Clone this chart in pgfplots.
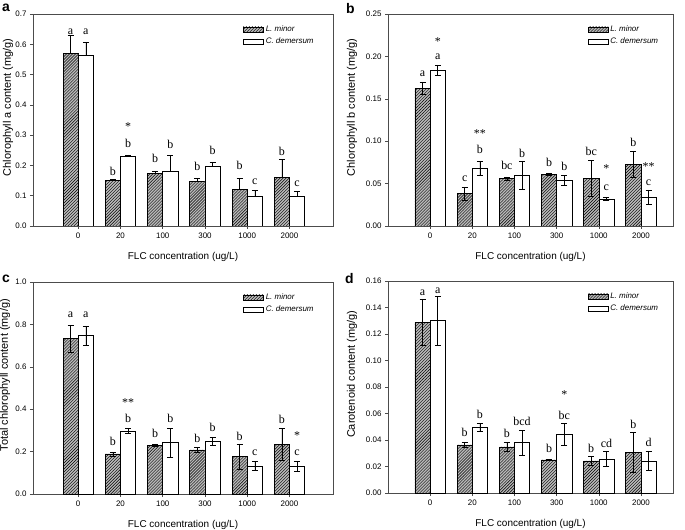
\documentclass[border=0pt]{standalone}
\usepackage{fontspec}
\setmainfont{Liberation Sans}
\newfontfamily\tnr{Liberation Serif}
\usepackage{pgfplots}
\usepackage{pgfplotstable}
\pgfplotsset{compat=1.18}
\usetikzlibrary{patterns}

\pgfplotsset{
  panel/.style={
    scale only axis, height=212bp,
    ymin=0, xtick={0,...,5}, xticklabels={0,20,100,300,1000,2000},
    axis line style={black!70, line width=0.6pt},
    tick style={black!70, line width=0.6pt},
    tick align=outside, tick pos=left, major tick length=3bp,
    ticklabel style={font=\fontsize{8}{9}\selectfont},
    /pgf/number format/assume math mode=true,
    label style={font=\fontsize{10}{12}\selectfont},
    xlabel={FLC concentration (ug/L)},
    x label style={at={(axis description cs:0.5,0)}, yshift=-31bp, anchor=center},
    legend style={at={(0.70,0.955)}, anchor=north west, draw=none, fill=none,
      font=\fontsize{8}{9}\selectfont\itshape, row sep=1bp, inner sep=0pt},
    legend cell align=left,
    legend image code/.code={\draw[##1] (0bp,-2.5bp) rectangle (20bp,2.5bp);},
  },
  ylab/.style 2 args={ylabel={#1},
    y label style={at={(axis description cs:-#2,0.56)}, anchor=center,
      font=\fontsize{11}{12}\selectfont}},
  % bars are placed at category -/+ 0.18 through x expr, so that error bars follow them
  lm/.style={ybar, bar shift=0pt, bar width=0.36, fill=gray!55, draw=black, line width=0.6pt,
    postaction={pattern=north east lines},
    error bars/.cd, y dir=#1, y explicit,
    error bar style={black, line width=0.6pt},
    error mark options={rotate=90, black, mark size=3bp, line width=0.6pt}},
  cd/.style={ybar, bar shift=0pt, bar width=0.36, fill=white, draw=black, line width=0.6pt,
    error bars/.cd, y dir=#1, y explicit,
    error bar style={black, line width=0.6pt},
    error mark options={rotate=90, black, mark size=3bp, line width=0.6pt}},
  labs/.style={forget plot, draw=none, mark=none, nodes near coords, point meta=explicit symbolic,
    nodes near coords style={anchor=center, inner sep=0pt, text height=0.68em, text depth=0pt,
      font=\tnr\fontsize{12}{12}\selectfont}},
}

\pgfplotstableread{
x L Le C Ce
0 0.570 0.060 0.565 0.042
1 0.150 0.004 0.229 0.006
2 0.173 0.009 0.182 0.051
3 0.147 0.010 0.198 0.013
4 0.121 0.037 0.099 0.019
5 0.161 0.059 0.098 0.016
}\chla
\pgfplotstableread{
x L Le C Ce
0 0.162 0.007 0.184 0.006
1 0.038 0.008 0.068 0.008
2 0.056 0.002 0.0595 0.0165
3 0.061 0.001 0.054 0.006
4 0.056 0.021 0.032 0.002
5 0.073 0.015 0.034 0.0085
}\chlb
\pgfplotstableread{
x L Le C Ce
0 0.733 0.063 0.748 0.045
1 0.189 0.010 0.298 0.013
2 0.230 0.006 0.2425 0.067
3 0.208 0.010 0.250 0.018
4 0.176 0.060 0.131 0.021
5 0.233 0.075 0.132 0.023
}\chlt
\pgfplotstableread{
x L Le C Ce
0 0.129 0.0175 0.130 0.0185
1 0.0363 0.002 0.0495 0.003
2 0.0348 0.0035 0.038 0.0093
3 0.025 0.0005 0.0443 0.0083
4 0.0243 0.0035 0.0258 0.0055
5 0.0308 0.0148 0.0243 0.0075
}\caro

\begin{document}
\begin{tikzpicture}
\path[use as bounding box] (0,0) rectangle (685bp,-530bp);

% a
\begin{axis}[panel, at={(33bp,-14bp)}, anchor=north west, width=300bp,
  xmin=-1.07, xmax=6.03, ymax=0.7, ytick={0,0.1,...,0.7},
  yticklabel style={/pgf/number format/.cd, fixed, fixed zerofill, precision=1},
  ylab={Chlorophyll a content (mg/g)}{0.083}]
\addplot[lm=plus] table[x expr=\thisrow{x}-0.18, y=L, y error=Le] {\chla};
\addlegendentry{L. minor}
\addplot[cd=plus] table[x expr=\thisrow{x}+0.18, y=C, y error=Ce] {\chla};
\addlegendentry{C. demersum}
\addplot[labs] table[meta=t] {
x y t
-0.18 0.645 a
0.18 0.645 a
0.82 0.177 b
1.18 0.270 b
1.18 0.325 *
1.82 0.221 b
2.18 0.267 b
2.82 0.193 b
3.18 0.247 b
3.82 0.197 b
4.18 0.147 c
4.82 0.244 b
5.18 0.143 c
};
\end{axis}

% b
\begin{axis}[panel, at={(388bp,-14bp)}, anchor=north west, width=285bp,
  xmin=-1.0, xmax=5.76, ymax=0.25, ytick={0,0.05,...,0.25},
  yticklabel style={/pgf/number format/.cd, fixed, fixed zerofill, precision=2},
  ylab={Chlorophyll b content (mg/g)}{0.126}]
\addplot[lm=both] table[x expr=\thisrow{x}-0.18, y=L, y error=Le] {\chlb};
\addlegendentry{L. minor}
\addplot[cd=both] table[x expr=\thisrow{x}+0.18, y=C, y error=Ce] {\chlb};
\addlegendentry{C. demersum}
\addplot[labs] table[meta=t] {
x y t
-0.18 0.180 a
0.18 0.200 a
0.18 0.217 *
0.82 0.056 c
1.18 0.090 b
1.18 0.108 **
1.82 0.0705 bc
2.18 0.0846 b
2.82 0.0736 b
3.18 0.0697 b
3.82 0.0866 bc
4.18 0.0453 c
4.18 0.067 *
4.82 0.0972 b
5.18 0.052 c
5.18 0.0697 **
};
\end{axis}

% c
\begin{axis}[panel, at={(33bp,-282bp)}, anchor=north west, width=300bp,
  xmin=-1.07, xmax=6.03, ymax=1.0, ytick={0,0.2,...,1.0},
  yticklabel style={/pgf/number format/.cd, fixed, fixed zerofill, precision=1},
  ylab={Total chlorophyll content (mg/g)}{0.093}]
\addplot[lm=both] table[x expr=\thisrow{x}-0.18, y=L, y error=Le] {\chlt};
\addlegendentry{L. minor}
\addplot[cd=both] table[x expr=\thisrow{x}+0.18, y=C, y error=Ce] {\chlt};
\addlegendentry{C. demersum}
\addplot[labs] table[meta=t] {
x y t
-0.18 0.850 a
0.18 0.850 a
0.82 0.246 b
1.18 0.354 b
1.18 0.430 **
1.82 0.283 b
2.18 0.353 b
2.82 0.260 b
3.18 0.310 b
3.82 0.268 b
4.18 0.197 c
4.82 0.350 b
5.18 0.197 c
5.18 0.272 *
};
\end{axis}

% d
\begin{axis}[panel, at={(388bp,-281bp)}, anchor=north west, width=285bp,
  xmin=-1.0, xmax=5.76, ymax=0.16, ytick={0,0.02,...,0.16},
  yticklabel style={/pgf/number format/.cd, fixed, fixed zerofill, precision=2},
  ylab={Carotenoid content (mg/g)}{0.126}]
\addplot[lm=both] table[x expr=\thisrow{x}-0.18, y=L, y error=Le] {\caro};
\addlegendentry{L. minor}
\addplot[cd=both] table[x expr=\thisrow{x}+0.18, y=C, y error=Ce] {\caro};
\addlegendentry{C. demersum}
\addplot[labs] table[meta=t] {
x y t
-0.18 0.1515 a
0.18 0.153 a
0.82 0.045 b
1.18 0.059 b
1.82 0.0445 b
2.18 0.0538 bcd
2.82 0.0333 b
3.18 0.0578 bc
3.18 0.0738 *
3.82 0.033 b
4.18 0.037 cd
4.82 0.0513 b
5.18 0.0375 d
};
\end{axis}

\begin{scope}[every node/.style={anchor=north west, inner sep=0pt, font=\bfseries\fontsize{14}{14}\selectfont}]
\node at (2bp,-4bp) {a};
\node at (346bp,-3bp) {b};
\node at (2bp,-275bp) {c};
\node at (345bp,-273bp) {d};
\end{scope}
\end{tikzpicture}
\end{document}
